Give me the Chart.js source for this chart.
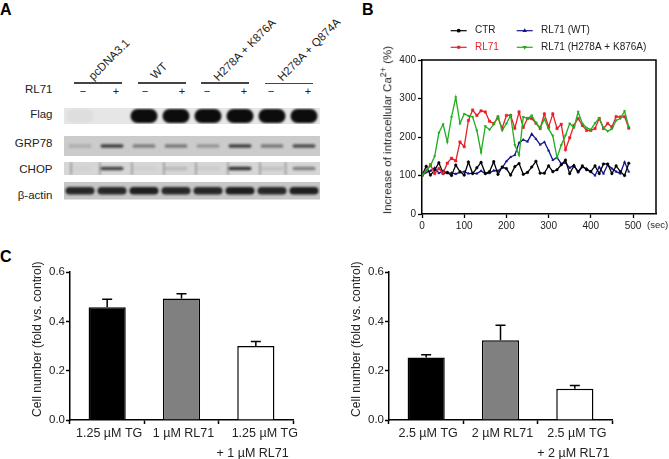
<!DOCTYPE html>
<html>
<head>
<meta charset="utf-8">
<title>RL71 figure</title>
<script src="https://cdn.jsdelivr.net/npm/chart.js@4/dist/chart.umd.js"></script>
<style>
  html, body { margin: 0; padding: 0; background: #fff; }
  body { width: 669px; height: 459px; position: relative; overflow: hidden; font-family: "Liberation Sans", Arial, sans-serif; color: #222; }
  canvas { position: absolute; }
  .txt { position: absolute; white-space: nowrap; font-size: 11px; line-height: 1; }
  .panel { font-size: 16px; font-weight: bold; color: #000; }
  .rot { transform-origin: 0 100%; transform: rotate(-45deg); }
  .rule { position: absolute; height: 1.5px; background: #444; }
  sup { font-size: 9px; line-height: 0; }
</style>
</head>
<body>
<div class="txt panel" style="left:0;top:2px">A</div>
<div class="txt panel" style="left:362px;top:2px">B</div>
<div class="txt panel" style="left:0;top:249px">C</div>

<div id="blotText"></div>
<canvas id="blot" width="256" height="92" style="left:64px;top:108px"></canvas>

<canvas id="calcium" width="293" height="220" style="left:376px;top:20px"></canvas>
<div class="txt" style="left:388px;top:130px;transform:translate(-50%,-50%) rotate(-90deg);font-size:11.5px">Increase of intracellular Ca<sup>2+</sup> (%)</div>
<div class="txt" style="left:647px;top:220px;font-size:9.5px">(sec)</div>

<canvas id="bars1" width="285" height="197" style="left:28px;top:262px"></canvas>
<canvas id="bars2" width="285" height="197" style="left:347px;top:262px"></canvas>

<script>
// panel A: band strength per lane, 0 = nothing, 1 = black
const lanes = [1, 2, 3, 4, 5, 6, 7, 8];
const flagBands = [0.03, 0.0, 1, 1, 1, 1, 1, 1];
const grp78Bands = [0.15, 0.72, 0.4, 0.42, 0.28, 0.72, 0.42, 0.66];
const chopBands = [0.02, 0.72, 0.03, 0.14, 0.06, 0.8, 0.1, 0.42];
const actinBands = [0.85, 0.85, 0.9, 0.85, 0.85, 0.9, 0.85, 0.9];
const blotLabels = ['Flag', 'GRP78', 'CHOP', 'β-actin'];
const constructs = ['pcDNA3.1', 'WT', 'H278A + K876A', 'H278A + Q874A'];

// panel B
const timeSec = [0, 10, 20, 30, 40, 50, 60, 70, 80, 90, 100, 110, 120, 130, 140, 150, 160, 170, 180, 190, 200, 210, 220, 230, 240, 250, 260, 270, 280, 290, 300, 310, 320, 330, 340, 350, 360, 370, 380, 390, 400, 410, 420, 430, 440, 450, 460, 470, 480, 490];
const ctr = [100, 124, 101, 114, 133, 105, 108, 100, 127, 110, 101, 135, 105, 120, 134, 105, 110, 136, 103, 122, 118, 101, 123, 131, 103, 108, 122, 137, 106, 106, 125, 110, 115, 128, 140, 105, 125, 110, 125, 115, 110, 125, 105, 130, 130, 105, 125, 110, 100, 132];
const rl71 = [100, 112, 128, 105, 118, 106, 132, 145, 138, 187, 175, 243, 270, 256, 268, 265, 241, 235, 250, 223, 256, 256, 223, 265, 225, 248, 248, 236, 222, 260, 226, 260, 222, 233, 167, 198, 230, 248, 230, 217, 217, 222, 248, 222, 235, 226, 253, 252, 253, 223];
const rl71Wt = [100, 108, 112, 120, 106, 112, 106, 107, 104, 108, 110, 105, 106, 105, 112, 105, 106, 113, 112, 120, 137, 148, 153, 185, 193, 188, 208, 195, 180, 187, 165, 140, 147, 130, 133, 120, 127, 108, 122, 118, 110, 100, 122, 105, 128, 118, 110, 105, 135, 110];
const rl71Mut = [100, 113, 125, 150, 211, 233, 187, 252, 303, 235, 260, 255, 252, 217, 160, 228, 219, 233, 254, 217, 235, 256, 179, 153, 252, 248, 256, 236, 224, 247, 221, 203, 146, 179, 204, 235, 224, 265, 235, 224, 219, 236, 249, 224, 215, 221, 243, 248, 267, 226];
const seriesNames = ['CTR', 'RL71', 'RL71 (WT)', 'RL71 (H278A + K876A)'];
const seriesColors = ['#000000', '#e8202a', '#14148c', '#1fae1f'];
const seriesMarkers = ['circle', 'rect', 'triangle', 'triangle'];

// panel C
const tgLow = ['1.25 µM TG', '1 µM RL71', ['1.25 µM TG', '+ 1 µM RL71']];
const tgLowMean = [0.457, 0.493, 0.300];
const tgLowErr = [0.033, 0.019, 0.018];
const tgHigh = ['2.5 µM TG', '2 µM RL71', ['2.5 µM TG', '+ 2 µM RL71']];
const tgHighMean = [0.253, 0.323, 0.127];
const tgHighErr = [0.012, 0.061, 0.013];
const barColors = ['#000000', '#808080', '#ffffff'];

const FONT = '"Liberation Sans", Arial, sans-serif';
const INK = '#222';
const NBSP = '\u00a0';

// ---- text round the blot ----
function addText(html, left, top, extra) {
  const el = document.createElement('div');
  el.className = 'txt';
  el.style.cssText = `left:${left}px;top:${top}px;` + (extra || '');
  el.innerHTML = html;
  document.getElementById('blotText').appendChild(el);
  return el;
}

const labelY = [109, 138, 164, 190];
blotLabels.forEach((t, i) => addText(t, 0, labelY[i], 'width:52.5px;text-align:right;font-size:11.5px'));
addText('RL71', 25, 84, 'font-size:11.5px');

const ruleBox = [[74, 82], [138, 82], [201, 82], [265, 82.6]];
const ruleEnds = [[83, 116], [145, 182], [207, 244], [271, 308]];
const nameStart = [[95, 71], [157, 70], [220, 72], [284, 72]];
constructs.forEach((name, i) => {
  const rule = document.createElement('div');
  rule.className = 'rule';
  rule.style.cssText = `left:${ruleBox[i][0]}px;top:${ruleBox[i][1]}px;width:47.5px`;
  document.getElementById('blotText').appendChild(rule);
  addText('−', ruleEnds[i][0] - 4, 86, 'width:8px;text-align:center');
  addText('+', ruleEnds[i][1] - 4, 86, 'width:8px;text-align:center');
  const el = addText(name, nameStart[i][0], nameStart[i][1], 'font-size:11.5px');
  el.classList.add('rot');
});

// ---- panel A: blot drawn as bands on lane / height scales ----
const rowStyles = [
  { top: 0, h: 16, bg: '#e6e6e6', band: 14, wide: 27, seams: [] },
  { top: 28, h: 20, bg: '#cbcbcb', band: 3.5, wide: 23, seams: [] },
  { top: 54, h: 13, bg: '#d6d6d6', band: 3.5, wide: 23, seams: [0.7, 1.6, 2.6, 3.6, 4.6, 5.6, 6.6, 7.4] },
  { top: 74, h: 17.5, bg: '#c6c6c6', band: 7.5, wide: 29, seams: [] }
];

const blotPlugin = {
  id: 'blotPlugin',
  beforeDatasetsDraw(chart) {
    const { ctx, scales: { x, y } } = chart;
    chart.data.datasets.forEach((ds, r) => {
      const s = rowStyles[r];
      const left = x.getPixelForValue(0.5);
      const right = x.getPixelForValue(8.5);
      const top = y.getPixelForValue(s.top);
      const bottom = y.getPixelForValue(s.top + s.h);
      ctx.save();
      ctx.beginPath();
      ctx.rect(left, top, right - left, bottom - top);
      ctx.fillStyle = s.bg;
      ctx.fill();
      ctx.clip();
      ctx.filter = 'blur(1px)';
      s.seams.forEach(lane => {
        ctx.fillStyle = 'rgba(70,70,70,0.45)';
        ctx.fillRect(x.getPixelForValue(lane), top, 1.5, bottom - top);
      });
      chart.getDatasetMeta(r).data.forEach((pt, i) => {
        const strength = ds.strength[i];
        if (!strength) return;
        ctx.fillStyle = `rgba(12,12,12,${strength})`;
        ctx.beginPath();
        ctx.roundRect(pt.x - s.wide / 2, pt.y - s.band / 2, s.wide, s.band, s.band / 2);
        ctx.fill();
      });
      ctx.restore();
    });
  }
};

new Chart(document.getElementById('blot'), {
  type: 'scatter',
  data: {
    datasets: [flagBands, grp78Bands, chopBands, actinBands].map((strength, r) => ({
      label: blotLabels[r],
      strength,
      pointRadius: 0,
      data: lanes.map(lane => ({ x: lane, y: rowStyles[r].top + rowStyles[r].h / 2 }))
    }))
  },
  options: {
    responsive: false,
    animation: false,
    layout: { padding: 0 },
    plugins: { legend: { display: false }, tooltip: { enabled: false } },
    scales: {
      x: { type: 'linear', min: 0.5, max: 8.5, display: false },
      y: { type: 'linear', min: 0, max: 92, reverse: true, display: false }
    }
  },
  plugins: [blotPlugin]
});

// ---- panel B ----
const framePlugin = {
  id: 'framePlugin',
  afterDraw(chart) {
    const { ctx, chartArea: a } = chart;
    ctx.save();
    ctx.strokeStyle = '#000';
    ctx.lineWidth = 1.5;
    ctx.beginPath();
    ctx.moveTo(a.left, a.top);
    ctx.lineTo(a.right, a.top);
    ctx.lineTo(a.right, a.bottom);
    ctx.stroke();

    // two by two legend
    const cols = [74.7, 140.7];
    const rows = [10.7, 27.3];
    ctx.font = '10px ' + FONT;
    ctx.textBaseline = 'middle';
    seriesNames.forEach((name, i) => {
      const sx = cols[i > 1 ? 1 : 0];
      const sy = rows[i % 2];
      ctx.strokeStyle = seriesColors[i];
      ctx.fillStyle = seriesColors[i];
      ctx.lineWidth = 1.2;
      ctx.beginPath();
      ctx.moveTo(sx, sy);
      ctx.lineTo(sx + 16, sy);
      ctx.stroke();
      Chart.helpers.drawPoint(ctx, { pointStyle: seriesMarkers[i], radius: 1.3, rotation: i === 3 ? 180 : 0, borderWidth: 0.5 }, sx + 8, sy);
      ctx.fillStyle = i === 1 ? seriesColors[1] : INK;
      ctx.fillText(name, sx + 24.3, sy);
    });
    ctx.restore();
  }
};

const calciumSeries = [ctr, rl71, rl71Wt, rl71Mut];
const drawOrder = [2, 1, 3, 0];

new Chart(document.getElementById('calcium'), {
  type: 'line',
  data: {
    datasets: calciumSeries.map((vals, i) => ({
      label: seriesNames[i],
      data: vals.map((v, k) => ({ x: timeSec[k], y: v })),
      borderColor: seriesColors[i],
      backgroundColor: seriesColors[i],
      borderWidth: 1.3,
      pointStyle: seriesMarkers[i],
      pointRadius: i === 1 ? 1.7 : 1.3,
      pointBorderWidth: 0.5,
      pointRotation: i === 3 ? 180 : 0,
      tension: 0,
      order: drawOrder[i]
    }))
  },
  options: {
    responsive: false,
    animation: false,
    layout: { padding: { top: 40, right: 13, left: 0, bottom: 0 } },
    plugins: { legend: { display: false }, tooltip: { enabled: false } },
    scales: {
      x: {
        type: 'linear', min: 0, max: 554.5,
        afterFit(s) { s.height = 26; },
        ticks: { stepSize: 100, includeBounds: false, color: INK, font: { size: 10, family: FONT }, maxRotation: 0, padding: 2 },
        grid: { drawOnChartArea: false, tickLength: 4, tickColor: '#000', tickWidth: 1.3 },
        border: { color: '#000', width: 1.5 }
      },
      y: {
        type: 'linear', min: 0, max: 400,
        afterFit(s) { s.width = 46; },
        ticks: { stepSize: 100, color: INK, font: { size: 10, family: FONT }, padding: 2 },
        grid: { drawOnChartArea: false, tickLength: 4, tickColor: '#000', tickWidth: 1.3 },
        border: { color: '#000', width: 1.5 }
      }
    }
  },
  plugins: [framePlugin]
});

// ---- panel C ----
const errorBars = {
  id: 'errorBars',
  afterDatasetsDraw(chart) {
    const { ctx, scales: { y } } = chart;
    const ds = chart.data.datasets[0];
    ctx.save();
    ctx.strokeStyle = '#000';
    ctx.lineWidth = 1.5;
    chart.getDatasetMeta(0).data.forEach((bar, i) => {
      const from = y.getPixelForValue(ds.data[i]);
      const to = y.getPixelForValue(ds.data[i] + ds.errUp[i]);
      ctx.beginPath();
      ctx.moveTo(bar.x, from);
      ctx.lineTo(bar.x, to);
      ctx.moveTo(bar.x - 5, to);
      ctx.lineTo(bar.x + 5, to);
      ctx.stroke();
    });
    ctx.restore();
  }
};

// the two-line label is not centred in the original, nudge its lines with padding
function cellChart(id, labels, means, errs, firstPad, secondPad) {
  return new Chart(document.getElementById(id), {
    type: 'bar',
    data: {
      labels,
      datasets: [{
        data: means,
        errUp: errs,
        backgroundColor: barColors,
        borderColor: '#000',
        borderWidth: 1.5,
        barPercentage: 0.5,
        categoryPercentage: 1
      }]
    },
    options: {
      responsive: false,
      animation: false,
      layout: { padding: { top: 10, right: 20, left: 0, bottom: 0 } },
      plugins: { legend: { display: false }, tooltip: { enabled: false } },
      scales: {
        x: {
          afterFit(s) { s.height = 39; s.paddingLeft = 0; s.paddingRight = 0; },
          ticks: {
            color: INK,
            font: { size: 12.5, family: FONT, lineHeight: 1.6 },
            maxRotation: 0,
            autoSkip: false,
            padding: 0,
            labelOffset: 2,
            callback(value) {
              const label = this.getLabelForValue(value);
              if (!Array.isArray(label)) return label;
              return [NBSP.repeat(firstPad) + label[0], label[1] + NBSP.repeat(secondPad)];
            }
          },
          grid: { drawOnChartArea: false, tickLength: 4, tickColor: '#000', tickWidth: 1.5 },
          border: { color: '#000', width: 1.5 }
        },
        y: {
          min: 0, max: 0.6,
          afterFit(s) { s.width = 42; },
          title: { display: true, text: NBSP.repeat(4) + 'Cell number (fold vs. control)', color: INK, font: { size: 12.2, family: FONT }, padding: { top: 2, bottom: 0 } },
          ticks: { stepSize: 0.2, color: INK, font: { size: 11.5, family: FONT }, padding: 1, callback: v => v.toFixed(1) },
          grid: { drawOnChartArea: false, tickLength: 4, tickColor: '#000', tickWidth: 1.5 },
          border: { color: '#000', width: 1.5 }
        }
      }
    },
    plugins: [errorBars]
  });
}

cellChart('bars1', tgLow, tgLowMean, tgLowErr, 4, 3);
cellChart('bars2', tgHigh, tgHighMean, tgHighErr, 0, 2);
</script>
</body>
</html>
